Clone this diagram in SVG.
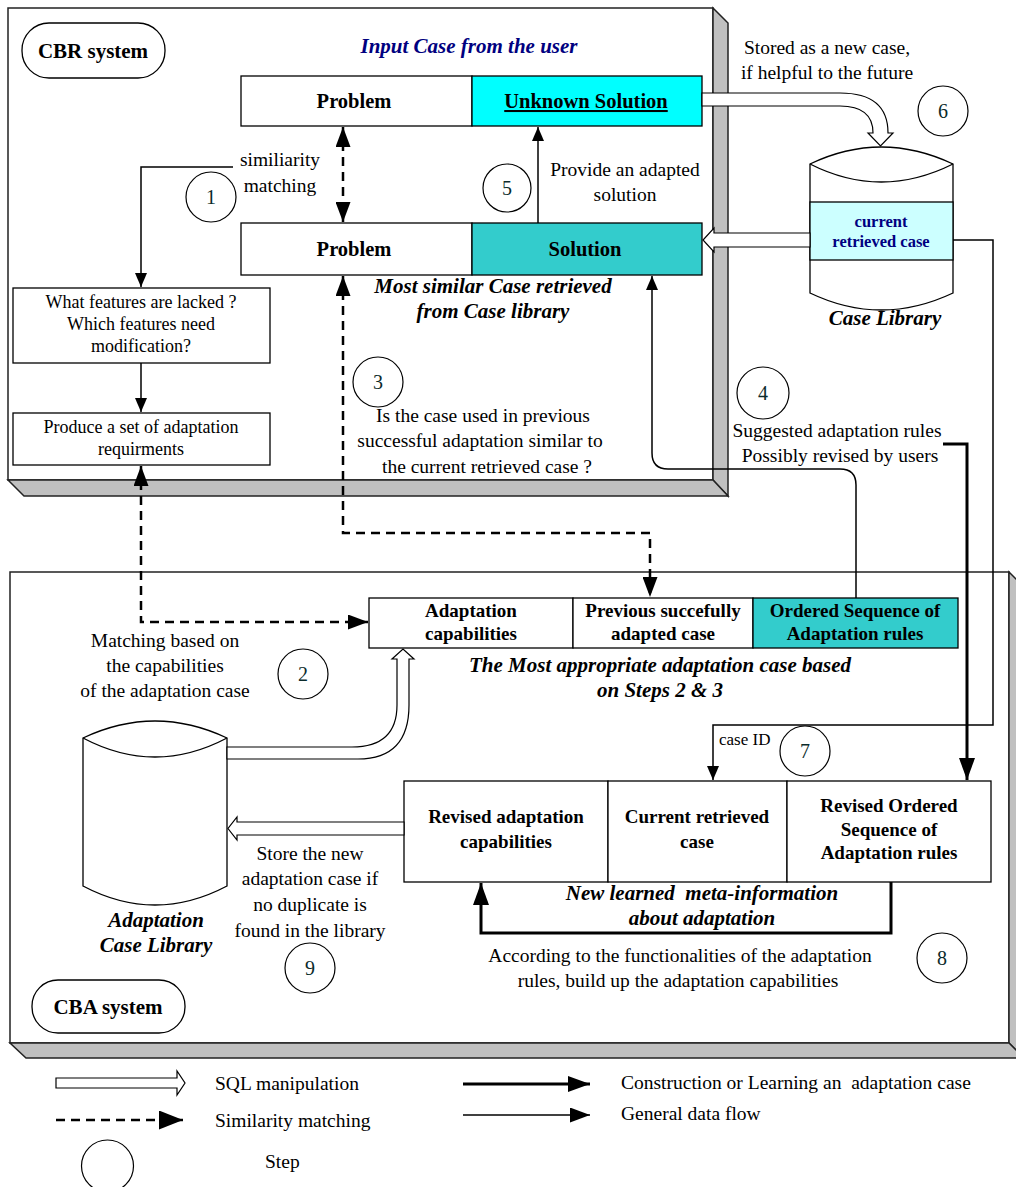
<svg xmlns="http://www.w3.org/2000/svg" width="1016" height="1187" viewBox="0 0 1016 1187">
<style>
text{font-family:"Liberation Serif","Times New Roman",serif;fill:#000}
.h{font-weight:bold;font-size:20.5px;text-anchor:middle}
.hb{font-weight:bold;font-size:19px;text-anchor:middle}
.bi{font-weight:bold;font-style:italic;font-size:21px;text-anchor:middle}
.r{font-size:19.5px;text-anchor:middle}
.bx{font-size:18px;text-anchor:middle}
.n{font-size:20px;text-anchor:middle;fill:#0b2b2b}
.lg{font-size:19.5px}
.box{fill:#fff;stroke:#000;stroke-width:1.3}
.cyan{fill:#00ffff;stroke:#000;stroke-width:1.3}
.teal{fill:#33cccc;stroke:#000;stroke-width:1.3}
.panel{fill:#fff;stroke:#222;stroke-width:1.5}
.side{fill:#c0c0c0;stroke:#222;stroke-width:1.5}
.step{fill:none;stroke:#000;stroke-width:1.2}
.thin{fill:none;stroke:#000;stroke-width:1.5}
.thick{fill:none;stroke:#000;stroke-width:3}
.dash{fill:none;stroke:#000;stroke-width:2.5;stroke-dasharray:9 6}
.sql{fill:#fff;stroke:#000;stroke-width:1.2}
.cyl{fill:#fff;stroke:#000;stroke-width:1.3}
</style>
<defs>
<marker id="ah" viewBox="0 0 14 12" refX="14" refY="6" markerWidth="14" markerHeight="12" markerUnits="userSpaceOnUse" orient="auto-start-reverse"><path d="M0,0 L14,6 L0,12 z" fill="#000"/></marker>
<marker id="ahd" viewBox="0 0 20 15" refX="20" refY="7.5" markerWidth="20" markerHeight="15" markerUnits="userSpaceOnUse" orient="auto-start-reverse"><path d="M0,0 L20,7.5 L0,15 z" fill="#000"/></marker>
<marker id="ahl" viewBox="0 0 24 19" refX="24" refY="9.5" markerWidth="24" markerHeight="19" markerUnits="userSpaceOnUse" orient="auto"><path d="M0,0 L24,9.5 L0,19 z" fill="#000"/></marker>
<marker id="aht" viewBox="0 0 22 16" refX="22" refY="8" markerWidth="22" markerHeight="16" markerUnits="userSpaceOnUse" orient="auto-start-reverse"><path d="M0,0 L22,8 L0,16 z" fill="#000"/></marker>
</defs>

<!-- Panels -->
<g id="cbr-panel">
<rect class="panel" x="8" y="8" width="705" height="472"/>
<polygon class="side" points="713,8 728,23 728,496 713,480"/>
<polygon class="side" points="8,480 713,480 728,496 24,496"/>
</g>
<g id="cba-panel">
<rect class="panel" x="10" y="572" width="999" height="471"/>
<polygon class="side" points="1009,572 1024,587 1024,1058 1009,1043"/>
<polygon class="side" points="10,1043 1009,1043 1024,1058 26,1058"/>
</g>

<!-- CBR nodes -->
<g id="cbr-label"><rect class="box" x="22" y="23" width="143" height="55" rx="27"/><text class="h" x="93" y="58" style="font-size:21px">CBR system</text></g>
<text class="bi" x="469" y="53" style="fill:#000080">Input Case from the user</text>
<g id="input-case">
<rect class="box" x="241" y="76" width="231" height="50"/>
<rect class="cyan" x="472" y="76" width="230" height="50"/>
<text class="h" x="354" y="108">Problem</text>
<text class="h" x="586" y="108" text-decoration="underline">Unknown Solution</text>
</g>
<g id="retrieved-case">
<rect class="box" x="241" y="223" width="231" height="52"/>
<rect class="teal" x="472" y="223" width="230" height="52"/>
<text class="h" x="354" y="256">Problem</text>
<text class="h" x="585" y="256">Solution</text>
</g>
<text class="bi" x="493" y="293">Most similar Case retrieved</text>
<text class="bi" x="493" y="318">from Case library</text>
<g id="features-box">
<rect class="box" x="13" y="288" width="257" height="75"/>
<text class="bx" x="141" y="308">What features are lacked ?</text>
<text class="bx" x="141" y="330">Which features need</text>
<text class="bx" x="141" y="352">modification?</text>
</g>
<g id="requirements-box">
<rect class="box" x="13" y="413" width="257" height="52"/>
<text class="bx" x="141" y="433">Produce a set of adaptation</text>
<text class="bx" x="141" y="455">requirments</text>
</g>
<g id="case-library">
<path class="cyl" d="M810,164 V293 Q881,327 953,293 V164 Q881,130 810,164 Z"/>
<path class="cyl" d="M810,164 Q881,200 953,164"/>
<rect x="810" y="202" width="143" height="58" fill="#ccffff" stroke="#000" stroke-width="1.3"/>
<text class="hb" x="881" y="227" style="font-size:16.5px;fill:#000080">current</text>
<text class="hb" x="881" y="247" style="font-size:16.5px;fill:#000080">retrieved case</text>
<text class="bi" x="885" y="325">Case Library</text>
</g>

<!-- CBA nodes -->
<g id="adaptation-case">
<rect class="box" x="369" y="598" width="204" height="50"/>
<rect class="box" x="573" y="598" width="180" height="50"/>
<rect class="teal" x="753" y="598" width="205" height="50"/>
<text class="hb" x="471" y="617">Adaptation</text>
<text class="hb" x="471" y="640">capabilities</text>
<text class="hb" x="663" y="617">Previous succefully</text>
<text class="hb" x="663" y="640">adapted case</text>
<text class="hb" x="855" y="617">Ordered Sequence of</text>
<text class="hb" x="855" y="640">Adaptation rules</text>
</g>
<text class="bi" x="660" y="672">The Most appropriate adaptation case based</text>
<text class="bi" x="660" y="697">on Steps 2 &amp; 3</text>
<g id="adaptation-library">
<path class="cyl" d="M83,738 V886 Q155,924 227,886 V738 Q155,704 83,738 Z"/>
<path class="cyl" d="M83,738 Q155,776 227,738"/>
<text class="bi" x="156" y="927">Adaptation</text>
<text class="bi" x="156" y="952">Case Library</text>
</g>
<g id="new-meta">
<rect class="box" x="404" y="781" width="204" height="101"/>
<rect class="box" x="608" y="781" width="179" height="101"/>
<rect class="box" x="787" y="781" width="204" height="101"/>
<text class="hb" x="506" y="823">Revised adaptation</text>
<text class="hb" x="506" y="848">capabilities</text>
<text class="hb" x="697" y="823">Current retrieved</text>
<text class="hb" x="697" y="848">case</text>
<text class="hb" x="889" y="812">Revised Ordered</text>
<text class="hb" x="889" y="836">Sequence of</text>
<text class="hb" x="889" y="859">Adaptation rules</text>
</g>
<text class="bi" x="702" y="900" xml:space="preserve">New learned  meta-information</text>
<text class="bi" x="702" y="925">about adaptation</text>
<g id="cba-label"><rect class="box" x="32" y="980" width="153" height="53" rx="26"/><text class="h" x="108" y="1014" style="font-size:21px">CBA system</text></g>

<!-- Steps -->
<g id="steps">
<circle class="step" cx="211" cy="197" r="25"/><text class="n" x="211" y="204">1</text>
<circle class="step" cx="303" cy="674" r="25"/><text class="n" x="303" y="681">2</text>
<circle class="step" cx="378" cy="382" r="25"/><text class="n" x="378" y="389">3</text>
<circle class="step" cx="763" cy="393" r="26"/><text class="n" x="763" y="400">4</text>
<circle class="step" cx="507" cy="188" r="24"/><text class="n" x="507" y="195">5</text>
<circle class="step" cx="943" cy="111" r="25"/><text class="n" x="943" y="118">6</text>
<circle class="step" cx="805" cy="751" r="25"/><text class="n" x="805" y="758">7</text>
<circle class="step" cx="942" cy="958" r="25"/><text class="n" x="942" y="965">8</text>
<circle class="step" cx="310" cy="968" r="25"/><text class="n" x="310" y="975">9</text>
</g>

<!-- Annotations -->
<g id="labels">
<text class="r" x="280" y="166">similiarity</text>
<text class="r" x="280" y="192">matching</text>
<text class="r" x="625" y="176">Provide an adapted</text>
<text class="r" x="625" y="201">solution</text>
<text class="r" x="827" y="54">Stored as a new case,</text>
<text class="r" x="827" y="79">if helpful to the future</text>
<text class="r" x="483" y="422">Is the case used in previous</text>
<text class="r" x="480" y="447">successful adaptation similar to</text>
<text class="r" x="487" y="473">the current retrieved case ?</text>
<text class="r" x="837" y="437">Suggested adaptation rules</text>
<text class="r" x="840" y="462">Possibly revised by users</text>
<text class="r" x="165" y="647">Matching based on</text>
<text class="r" x="165" y="672">the capabilities</text>
<text class="r" x="165" y="697">of the adaptation case</text>
<text x="719" y="745" style="font-size:17px">case ID</text>
<text class="r" x="310" y="860">Store the new</text>
<text class="r" x="310" y="885">adaptation case if</text>
<text class="r" x="310" y="911">no duplicate is</text>
<text class="r" x="310" y="937">found in the library</text>
<text class="r" x="680" y="962">According to the functionalities of the adaptation</text>
<text class="r" x="678" y="987">rules, build up the adaptation capabilities</text>
</g>

<!-- Connectors -->
<g id="connectors">
<path class="thin" d="M233,167 H141 V287" marker-end="url(#ah)"/>
<path class="thin" d="M141,363 V412" marker-end="url(#ah)"/>
<path class="dash" d="M343,127 V222" marker-start="url(#ahd)" marker-end="url(#ahd)"/>
<path class="thin" d="M538,223 V127" marker-end="url(#ah)"/>
<path class="dash" d="M343,276 V533 H650 V597" marker-start="url(#ahd)" marker-end="url(#ahd)"/>
<path class="dash" d="M141,466 V622 H368" marker-start="url(#ahd)" marker-end="url(#ahd)"/>
<path class="thin" d="M856,598 V485 Q856,469 840,469 H668 Q652,469 652,453 V276" marker-end="url(#ah)"/>
<path class="thin" d="M953,240 H993 V725 H713 V780" marker-end="url(#ah)"/>
<path class="thick" d="M943,444 H967 V780" marker-end="url(#aht)"/>
<path class="thick" d="M891,882 V933 H481 V883" marker-end="url(#aht)"/>
<path class="sql" d="M702,93 H840 Q888,93 888,133 H893 L880.5,146 L868,133 H873 Q873,106 840,106 H702 Z"/>
<path class="sql" d="M810,233 H714 V228 L703,240 L714,252 V247 H810 Z"/>
<path class="sql" d="M227,747 H352 Q397,747 397,705 V659 H392 L403,649 L414,659 H409 V705 Q409,759 358,759 H227 Z"/>
<path class="sql" d="M404,822 H237 V817 L228,828.5 L237,840 V835 H404 Z"/>
</g>

<!-- Legend -->
<g id="legend">
<path class="sql" d="M56,1078 H177 V1071 L185,1083 L177,1095 V1088 H56 Z"/>
<text class="lg" x="215" y="1090">SQL manipulation</text>
<path class="dash" d="M56,1120 H183" marker-end="url(#ahl)"/>
<text class="lg" x="215" y="1127">Similarity matching</text>
<circle class="step" cx="107.5" cy="1166" r="26"/>
<text class="lg" x="265" y="1168">Step</text>
<path class="thick" d="M463,1084 H590" marker-end="url(#aht)"/>
<text class="lg" x="621" y="1089" xml:space="preserve">Construction or Learning an  adaptation case</text>
<path class="thin" d="M463,1115 H590" marker-end="url(#ahd)"/>
<text class="lg" x="621" y="1120">General data flow</text>
</g>
</svg>
